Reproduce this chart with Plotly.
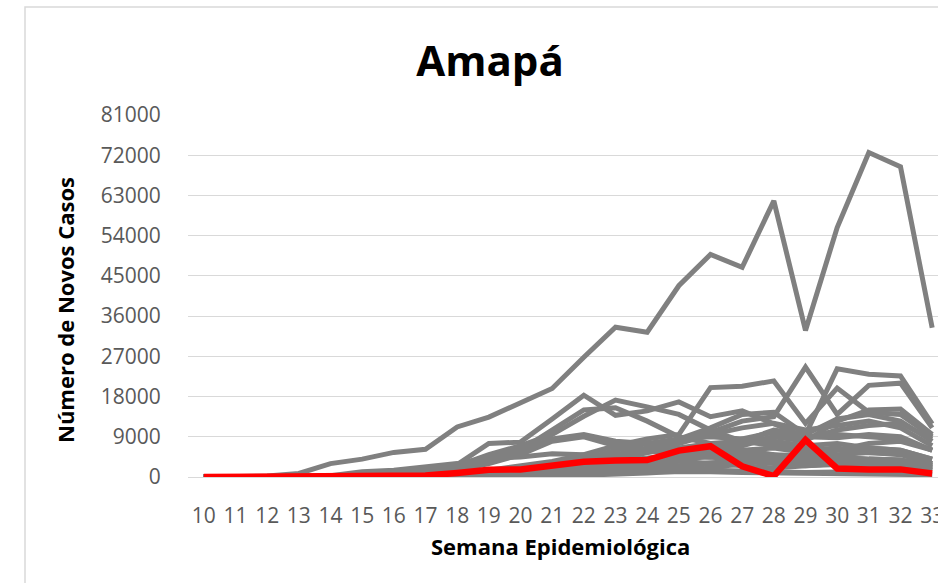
import plotly.graph_objects as go

# Epidemiological weeks
semanas = list(range(10, 34))
tick_labels = [str(s) for s in semanas]

# Weekly new cases (approximate)
amapa = [0, 0, 0, 0, 50, 100, 150, 350, 900, 1600, 1700, 2400, 3400, 3700, 3800, 5900, 6900, 2400, 200, 8300, 1900, 1700, 1700, 800]

sao_paulo = [0, 0, 200, 800, 3000, 4000, 5500, 6200, 11200, 13400, 16600, 19800, 26800, 33500, 32400, 42800, 49800, 46900, 61800, 32800, 55800, 72600, 69400, 33400]
rio_de_janeiro = [0, 0, 0, 100, 300, 600, 900, 2000, 2800, 7500, 7800, 13000, 18300, 13800, 14800, 16800, 13500, 14800, 12000, 9000, 8800, 9500, 9000, 6000]
ceara = [0, 0, 0, 50, 200, 500, 800, 1200, 2500, 5000, 7000, 9500, 13600, 17200, 15700, 14000, 10500, 8000, 7000, 6000, 5000, 5500, 5200, 3000]
para = [0, 0, 0, 0, 100, 300, 600, 1000, 1800, 3500, 6000, 10500, 15000, 15500, 12500, 9000, 7500, 6000, 5000, 4000, 4500, 4000, 3800, 2500]
bahia = [0, 0, 0, 50, 150, 300, 500, 700, 1000, 1500, 2500, 3500, 5000, 7000, 8500, 9500, 20000, 20300, 21500, 12000, 19900, 14500, 14000, 9000]
minas_gerais = [0, 0, 0, 30, 100, 200, 300, 400, 600, 900, 1500, 2200, 3500, 5000, 6500, 8500, 11000, 14000, 14500, 9500, 24200, 23000, 22600, 11900]
goias_spike = [0, 0, 0, 0, 50, 100, 200, 300, 500, 800, 1200, 2000, 3000, 4500, 6000, 8000, 10000, 12500, 13500, 24600, 14000, 20500, 21000, 11000]
rio_grande_do_sul = [0, 0, 0, 0, 50, 100, 150, 200, 300, 400, 600, 800, 1200, 2000, 3000, 4000, 5500, 7500, 9000, 8000, 12500, 15000, 15200, 9500]
parana = [0, 0, 0, 0, 30, 60, 100, 150, 250, 400, 600, 900, 1400, 2200, 3000, 4500, 6000, 8000, 10500, 9500, 13000, 14000, 12500, 8000]
pernambuco = [0, 0, 0, 20, 200, 600, 1000, 1500, 2800, 4500, 6000, 8500, 9500, 8000, 7500, 6500, 5000, 4500, 4000, 3500, 3500, 3000, 3200, 2000]
maranhao = [0, 0, 0, 0, 50, 200, 400, 800, 1500, 3000, 5000, 8000, 9000, 7000, 6000, 5000, 4500, 3500, 3000, 2500, 2800, 2500, 2500, 1500]
amazonas = [0, 0, 0, 50, 300, 1200, 1500, 2200, 3000, 4200, 4500, 5200, 5000, 4500, 3800, 3500, 3000, 2500, 2000, 2500, 3000, 2800, 2500, 1500]
paraiba = [0, 0, 0, 0, 20, 50, 100, 200, 400, 800, 1500, 2500, 4000, 6000, 7500, 8500, 9000, 8500, 8000, 7000, 7500, 6500, 6000, 4000]
espirito_santo = [0, 0, 0, 0, 50, 100, 200, 400, 700, 1200, 2000, 2800, 4000, 5000, 5500, 6500, 7500, 8000, 7500, 6000, 6500, 5500, 5000, 3000]
distrito_federal = [0, 0, 0, 0, 20, 50, 100, 200, 300, 500, 800, 1200, 2000, 3500, 5500, 7500, 9500, 11000, 12000, 10500, 11500, 12500, 11000, 7000]
santa_catarina = [0, 0, 0, 0, 20, 50, 80, 120, 200, 300, 400, 600, 900, 1500, 2200, 3500, 5000, 7000, 9000, 8500, 10500, 11500, 12000, 8500]
mato_grosso = [0, 0, 0, 0, 10, 20, 40, 80, 150, 250, 400, 600, 1000, 1800, 2800, 4000, 6000, 8500, 10000, 9000, 9500, 9000, 8500, 6000]
piaui = [0, 0, 0, 0, 10, 30, 60, 100, 200, 400, 700, 1200, 2000, 3000, 3500, 4500, 5500, 6000, 6500, 5500, 6000, 6500, 6000, 4000]
rio_grande_do_norte = [0, 0, 0, 0, 20, 50, 100, 200, 400, 700, 1200, 2000, 2800, 3500, 4200, 5000, 5200, 4500, 4000, 3500, 3500, 3200, 3000, 2000]
alagoas = [0, 0, 0, 0, 10, 30, 80, 150, 300, 600, 1100, 2000, 3000, 3500, 3800, 4200, 4500, 3800, 3200, 2800, 3000, 2700, 2500, 1600]
sergipe = [0, 0, 0, 0, 10, 20, 50, 100, 200, 400, 700, 1100, 1800, 2500, 3500, 4500, 5000, 5500, 5000, 4800, 4500, 4000, 3800, 2500]
tocantins = [0, 0, 0, 0, 0, 10, 20, 40, 80, 150, 300, 500, 800, 1200, 1800, 2500, 3000, 3500, 3800, 3200, 3600, 3400, 3500, 2500]
rondonia = [0, 0, 0, 0, 5, 10, 20, 40, 80, 150, 300, 500, 800, 1200, 1800, 2500, 3200, 3500, 4000, 3500, 3800, 3500, 3200, 2200]
roraima = [0, 0, 0, 0, 5, 10, 30, 60, 120, 250, 500, 800, 1000, 1200, 1500, 1800, 1500, 1300, 1200, 1000, 1100, 1000, 900, 600]
acre = [0, 0, 0, 0, 5, 10, 30, 60, 120, 250, 400, 700, 900, 1100, 1200, 1300, 1200, 1000, 900, 800, 900, 800, 700, 500]
mato_grosso_do_sul = [0, 0, 0, 0, 5, 10, 20, 30, 50, 80, 150, 250, 400, 600, 900, 1300, 2000, 3000, 4500, 4500, 6000, 7500, 8000, 6000]

outros_estados = {
    "São Paulo": sao_paulo, "Rio de Janeiro": rio_de_janeiro, "Ceará": ceara, "Pará": para,
    "Bahia": bahia, "Minas Gerais": minas_gerais, "Goiás": goias_spike,
    "Rio Grande do Sul": rio_grande_do_sul, "Paraná": parana, "Pernambuco": pernambuco,
    "Maranhão": maranhao, "Amazonas": amazonas, "Paraíba": paraiba,
    "Espírito Santo": espirito_santo, "Distrito Federal": distrito_federal,
    "Santa Catarina": santa_catarina, "Mato Grosso": mato_grosso, "Piauí": piaui,
    "Rio Grande do Norte": rio_grande_do_norte, "Alagoas": alagoas, "Sergipe": sergipe,
    "Tocantins": tocantins, "Rondônia": rondonia, "Roraima": roraima, "Acre": acre,
    "Mato Grosso do Sul": mato_grosso_do_sul,
}

y_ticks = list(range(0, 81001, 9000))

FONT = "Open Sans"
GRAY = "#808080"

fig = go.Figure()
for nome, vals in outros_estados.items():
    fig.add_trace(go.Scatter(x=semanas, y=vals, mode="lines", name=nome,
                             line=dict(color=GRAY, width=5), showlegend=False))
fig.add_trace(go.Scatter(x=semanas, y=amapa, mode="lines", name="Amapá",
                         line=dict(color="#FF0000", width=6.5), showlegend=False))

W, H = 970, 583
L, R, T, B = 188, 22, 115, 106
pw, ph = W - L - R, H - T - B

def px_to_paper_x(p):
    return (p - L) / pw

def py_to_paper_y(p):
    return (H - B - p) / ph

fig.update_layout(
    width=W, height=H,
    margin=dict(l=L, r=R, t=T, b=B),
    paper_bgcolor="white", plot_bgcolor="white",
    font=dict(family=FONT, color="#595959"),
    title=dict(text="<b>Amapá</b>", x=490 / W, xref="container", xanchor="center",
               y=1 - 61 / H, yref="container", yanchor="middle",
               font=dict(family=FONT, size=42, color="#000000")),
    xaxis=dict(range=[9.5, 33.5], tickmode="array", tickvals=semanas, ticktext=tick_labels,
               showgrid=False, zeroline=False, showline=True, linecolor="#d9d9d9", linewidth=1.25,
               ticks="outside", ticklen=20, tickcolor="rgba(0,0,0,0)",
               tickfont=dict(family=FONT, size=21, color="#595959")),
    yaxis=dict(range=[0, 81000], tickmode="array", tickvals=y_ticks, ticktext=[str(v) for v in y_ticks],
               showgrid=True, gridcolor="#d9d9d9", gridwidth=1.25, zeroline=False, showline=False,
               ticks="outside", ticklen=22, tickcolor="rgba(0,0,0,0)",
               tickfont=dict(family=FONT, size=21, color="#595959")),
    annotations=[
        dict(text="<b>Semana Epidemiológica</b>", xref="paper", yref="paper",
             x=px_to_paper_x(560), y=py_to_paper_y(546), xanchor="center", yanchor="middle",
             showarrow=False, font=dict(family=FONT, size=22, color="#000000")),
        dict(text="<b>Número de Novos Casos</b>", xref="paper", yref="paper",
             x=px_to_paper_x(65), y=py_to_paper_y(310), xanchor="center", yanchor="middle",
             textangle=-90, showarrow=False, font=dict(family=FONT, size=22, color="#000000")),
    ],
    shapes=[
        dict(type="rect", xref="paper", yref="paper",
             x0=px_to_paper_x(25), x1=px_to_paper_x(966), y0=py_to_paper_y(620), y1=py_to_paper_y(7),
             line=dict(color="#d9d9d9", width=1.5), fillcolor="rgba(0,0,0,0)", layer="below"),
    ],
)

fig.write_html("out.html", config={"displayModeBar": False},
               post_script="document.body.style.margin='0';document.body.style.overflow='hidden';")
